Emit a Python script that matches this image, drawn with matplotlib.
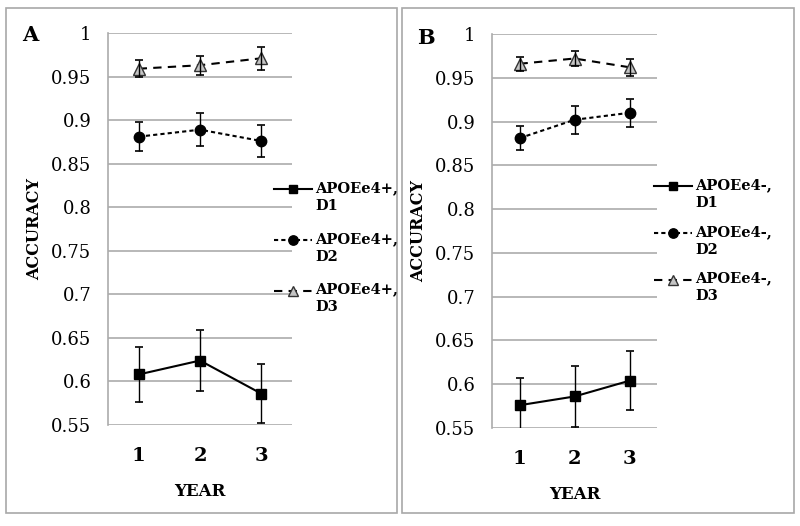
import numpy as np
import matplotlib
matplotlib.use("Agg")
import matplotlib.pyplot as plt
from matplotlib.patches import Rectangle
from matplotlib.legend_handler import HandlerLine2D

years = [1, 2, 3]
yticks = [0.55, 0.6, 0.65, 0.7, 0.75, 0.8, 0.85, 0.9, 0.95, 1.0]
ytick_labels = ["0.55", "0.6", "0.65", "0.7", "0.75", "0.8", "0.85", "0.9", "0.95", "1"]

# panel A: APOEe4+
a_d1 = [0.608, 0.624, 0.586]
a_d1_err = [0.032, 0.035, 0.034]
a_d2 = [0.881, 0.889, 0.876]
a_d2_err = [0.017, 0.019, 0.018]
a_d3 = [0.959, 0.963, 0.971]
a_d3_err = [0.010, 0.011, 0.013]
a_labels = ["APOEe4+,\nD1", "APOEe4+,\nD2", "APOEe4+,\nD3"]

# panel B: APOEe4-
b_d1 = [0.576, 0.586, 0.604]
b_d1_err = [0.031, 0.035, 0.034]
b_d2 = [0.881, 0.902, 0.910]
b_d2_err = [0.014, 0.016, 0.016]
b_d3 = [0.966, 0.972, 0.962]
b_d3_err = [0.008, 0.009, 0.010]
b_labels = ["APOEe4-,\nD1", "APOEe4-,\nD2", "APOEe4-,\nD3"]

GRID = "#ababab"
SERIF = "DejaVu Serif"


class HandlerTop(HandlerLine2D):
    """Put the legend handle level with the first line of a two-line label"""
    def create_artists(self, legend, orig_handle, xdescent, ydescent,
                       width, height, fontsize, trans):
        return super().create_artists(legend, orig_handle, xdescent,
                                      ydescent - 1.1 * fontsize, width,
                                      height, fontsize, trans)


def panel(fig, rect, letter, letter_xy, d1, e1, d2, e2, d3, e3, labels, leg_xy, lspace):
    ax = fig.add_axes(rect)
    lines = []
    ln, = ax.plot(years, d1, "-", color="black", lw=1.5, marker="s", ms=7)
    ax.errorbar(years, d1, yerr=e1, fmt="none", ecolor="black", elinewidth=1, capsize=3, capthick=1.2)
    lines.append(ln)
    ln, = ax.plot(years, d2, color="black", lw=1.5, dashes=(2, 1.5), marker="o", ms=7.5)
    ax.errorbar(years, d2, yerr=e2, fmt="none", ecolor="black", elinewidth=1, capsize=3, capthick=1.2)
    lines.append(ln)
    ln, = ax.plot(years, d3, color="black", lw=1.5, dashes=(4, 3), marker="^", ms=8,
                  mfc="#c4c4c4", mec="#333333", mew=1)
    ax.errorbar(years, d3, yerr=e3, fmt="none", ecolor="black", elinewidth=1, capsize=3, capthick=1.2)
    lines.append(ln)

    ax.set_xlim(0.5, 3.5)
    ax.set_ylim(0.55, 1.0)
    ax.set_yticks(yticks)
    ax.set_yticklabels(ytick_labels, family=SERIF, fontsize=13)
    ax.set_xticks(years)
    ax.set_xticklabels([str(y) for y in years], family=SERIF, fontsize=14, fontweight="bold")
    ax.tick_params(axis="y", length=0, pad=12)
    ax.tick_params(axis="x", length=0, pad=16)
    ax.grid(axis="y", color=GRID, lw=1.2)
    ax.set_axisbelow(True)
    for s in ["top", "right", "bottom"]:
        ax.spines[s].set_visible(False)
    ax.spines["left"].set_color(GRID)
    ax.spines["left"].set_linewidth(1.2)
    ax.set_xlabel("YEAR", family=SERIF, fontsize=12, fontweight="bold", labelpad=13)
    ax.set_ylabel("ACCURACY", family=SERIF, fontsize=11.5, fontweight="bold", labelpad=6)

    hm = {h: HandlerTop() for h in lines}
    leg = fig.legend(lines, labels, loc="upper left", bbox_to_anchor=leg_xy,
                     frameon=False, handler_map=hm, handlelength=2.6,
                     handletextpad=0.25, labelspacing=lspace, markerscale=0.9,
                     borderaxespad=0, borderpad=0,
                     prop={"family": SERIF, "weight": "bold", "size": 10.5})
    for t in leg.get_texts():
        t.set_linespacing(1.35)
    fig.text(letter_xy[0], letter_xy[1], letter, family=SERIF,
             fontsize=15, fontweight="bold", va="top")
    return ax


fig = plt.figure(figsize=(8, 5.26), dpi=100)

# panel frames
fig.patches.append(Rectangle((6 / 800, 1 - 513 / 526), 391 / 800, 505 / 526,
                             transform=fig.transFigure, fill=False, ec="#a8a8a8", lw=1.2))
fig.patches.append(Rectangle((402 / 800, 1 - 513 / 526), 392 / 800, 505 / 526,
                             transform=fig.transFigure, fill=False, ec="#a8a8a8", lw=1.2))

panel(fig, [108 / 800, 1 - 425 / 526, 184 / 800, 392 / 526], "A", (22 / 800, 1 - 25 / 526),
      a_d1, a_d1_err, a_d2, a_d2_err, a_d3, a_d3_err, a_labels,
      (274 / 800, 1 - 181 / 526), 1.3)
panel(fig, [492 / 800, 1 - 428 / 526, 165 / 800, 394 / 526], "B", (417 / 800, 1 - 28 / 526),
      b_d1, b_d1_err, b_d2, b_d2_err, b_d3, b_d3_err, b_labels,
      (654 / 800, 1 - 178 / 526), 1.02)

fig.savefig("out.png", dpi=100)
